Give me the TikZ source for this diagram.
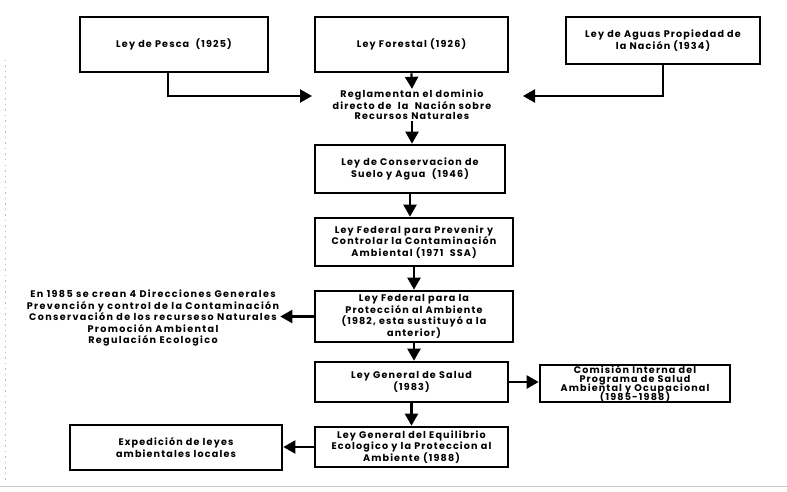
\documentclass[tikz,border=0pt]{standalone}
\usepackage{fontspec}
\setmainfont{Poppins}[LetterSpace=12]
\usetikzlibrary{arrows.meta}
\newcommand\tightlines{\lineskiplimit=-100pt\lineskip=0pt\relax}
\begin{document}
\begin{tikzpicture}[x=1pt,y=-1pt,
  box/.style={draw=black,line width=2.6pt,fill=white,align=center,
    inner sep=1pt,font=\fontsize{9.6}{11.5}\selectfont\bfseries},
  txt/.style={align=center,inner sep=1pt,font=\fontsize{9.6}{10.5}\selectfont\bfseries},
  link/.style={line width=2.2pt,-{Triangle[length=12pt,width=13pt]}}]
\useasboundingbox (0,0) rectangle (787,492);

% top row of laws
\node[box,minimum width=188pt,minimum height=55pt] (pesca) at (174,44.5) {Ley de Pesca\ \ (1925)};
\node[box,minimum width=193pt,minimum height=55pt] (forestal) at (411.5,44.5) {Ley Forestal (1926)};
\node[box,minimum width=194pt,minimum height=47pt] (aguas) at (663,40.5) {Ley de Aguas Propiedad de\\la Nación (1934)};

% statement reached by the three laws
\node[txt] (regl) at (412,105) {Reglamentan el dominio\\directo de\ \ la\ \ Nación sobre\\Recursos Naturales};
\coordinate (inL) at (312,96);
\coordinate (inR) at (523,96);

% main chain
\node[box,minimum width=190pt,minimum height=48pt] (cons) at (410,169) {Ley de Conservacion de\\Suelo y Agua\ \ (1946)};
\node[box,minimum width=198pt,minimum height=48pt] (prev) at (414,242) {Ley Federal para Prevenir y\\Controlar la Contaminación\\Ambiental (1971\ \ SSA)};
\node[box,minimum width=198pt,minimum height=51pt] (prot) at (414,316.5) {Ley Federal para la\\Protección al Ambiente\\(1982, esta sustituyó a la\\anterior)};
\node[box,minimum width=193pt,minimum height=40pt] (salud) at (411.5,382) {Ley General de Salud\\(1983)};
\node[box,minimum width=193pt,minimum height=40pt] (equil) at (411.5,447) {Ley General del Equilibrio\\Ecologico y la Proteccion al\\Ambiente (1988)};

% side branches
\node[txt,font=\addfontfeature{LetterSpace=14}\fontsize{9.6}{11.5}\selectfont\bfseries] (dir) at (153,318) {En 1985 se crean 4 Direcciones Generales\\Prevención y control de la Contaminación\\Conservación de los recurseso Naturales\\Promoción Ambiental\\Regulación Ecologico};
\node[box,inner sep=0pt,minimum width=190pt,minimum height=37pt,
  font=\fontsize{9.6}{9}\selectfont\bfseries\tightlines] (comis) at (635,383.5)
  {Comisión Interna del\\Programa de Salud\\Ambiental y Ocupacional\\(1985-1988)};
\node[box,minimum width=212pt,minimum height=45pt] (expd) at (176,447.5) {Expedición de leyes\\ambientales locales};

% connectors
\draw[link] ([xshift=-6pt]pesca.south) |- (inL);
\draw[link] (aguas.south) |- (inR);
\draw[link] (forestal.south) -- (regl.north);
\draw[link] (regl.south) -- (regl.south |- cons.north);
\draw[link] (cons.south) -- (cons.south |- prev.north);
\draw[link] (prev.south) -- (prev.south |- prot.north);
\draw[link] (prot.south) -- (prot.south |- salud.north);
\draw[link] (salud.south) -- (salud.south |- equil.north);
\draw[link] (prot.west) -- (prot.west -| dir.east);
\draw[link] (salud.east) -- (comis.west |- salud.east);
\draw[link] (equil.west) -- (expd.east |- equil.west);

% scanned-page edges
\draw[gray!45,line width=1pt] (0,486) -- (787,486);
\draw[gray!50,line width=0.8pt,dash pattern=on 1.5pt off 4pt] (5,60) -- (5,480);
\end{tikzpicture}
\end{document}
